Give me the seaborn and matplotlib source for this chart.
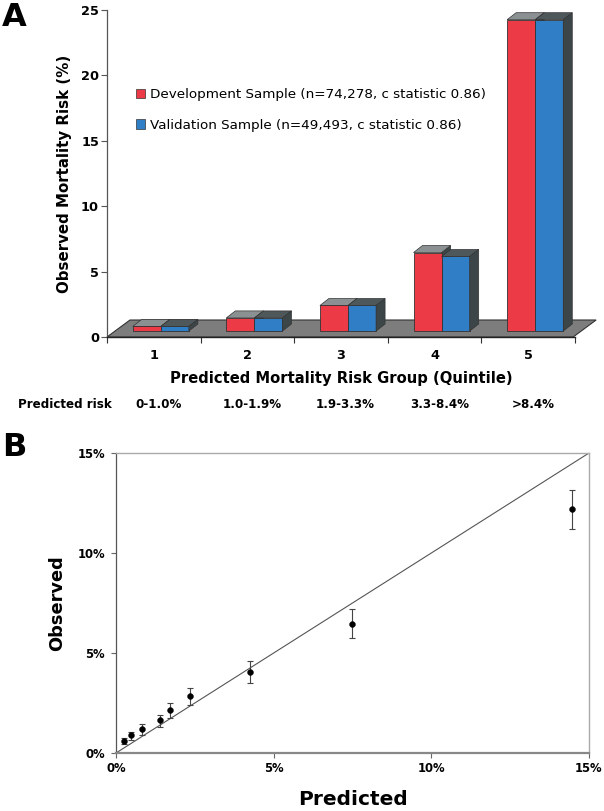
import numpy as np
import pandas as pd
import matplotlib
matplotlib.use("Agg")
import matplotlib.pyplot as plt
import seaborn as sns
from matplotlib.patches import Polygon, Patch
from matplotlib.ticker import FuncFormatter
import matplotlib.transforms as mtransforms

# ---------------- data ----------------
groups = ["1", "2", "3", "4", "5"]
risk_ranges = ["0-1.0%", "1.0-1.9%", "1.9-3.3%", "3.3-8.4%", ">8.4%"]
samples = ["Development Sample (n=74,278, c statistic 0.86)",
           "Validation Sample (n=49,493, c statistic 0.86)"]
development = [0.35, 1.0, 1.95, 6.0, 23.8]
validation = [0.35, 1.0, 1.95, 5.7, 23.8]

predicted = [0.26, 0.46, 0.81, 1.38, 1.70, 2.34, 4.24, 7.48, 14.45]
observed = [0.60, 0.88, 1.20, 1.63, 2.13, 2.85, 4.05, 6.47, 12.18]
ci_low = [0.47, 0.67, 0.92, 1.28, 1.75, 2.38, 3.48, 5.73, 11.22]
ci_high = [0.75, 1.07, 1.45, 1.92, 2.50, 3.27, 4.62, 7.18, 13.17]
diag = [0, 15]

RED = "#EC3A47"
BLUE = "#2F7EC6"
TOP_RED = "#8B9092"
TOP_BLUE = "#4E585B"
SIDE = "#3C4649"
FLOOR = "#7d7d7d"

sns.set_theme(style="white")
plt.rcParams["font.family"] = ["DejaVu Sans"]
plt.rcParams["text.color"] = "black"
plt.rcParams["axes.labelcolor"] = "black"
plt.rcParams["xtick.color"] = "black"
plt.rcParams["ytick.color"] = "black"

W, H = 604, 811
fig = plt.figure(figsize=(W / 100, H / 100), dpi=100)
axA = fig.add_axes([107 / W, 1 - 337 / H, 468 / W, 327 / H])
axB = fig.add_axes([116 / W, 1 - 753 / H, 473 / W, 300 / H])

# ---------------- panel A ----------------
df = pd.DataFrame({
    "group": groups * 2,
    "sample": [samples[0]] * len(groups) + [samples[1]] * len(groups),
    "risk": development + validation,
})
sns.barplot(data=df, x="group", y="risk", hue="sample", order=groups,
            hue_order=samples, palette=[RED, BLUE], width=0.6, saturation=1,
            edgecolor="#333333", linewidth=0.6, legend=False, ax=axA, zorder=2)
axA.set_xlim(-0.5, 4.5)
axA.set_ylim(0, 25)

bb = axA.get_window_extent()
ux = 5 / bb.width     # data units per pixel (x)
uy = 25 / bb.height   # data units per pixel (y)
fx, fy = 7, 6         # front-face offset in pixels
dx, dy = 9, 7         # bar depth in pixels

# floor
fdx, fdy = 23, 17
floor = Polygon([(-0.5, 0), (4.48, 0), (4.48 + fdx * ux, fdy * uy),
                 (-0.5 + fdx * ux, fdy * uy)], closed=True,
                facecolor=FLOOR, edgecolor="#333333", lw=0.8,
                zorder=0.8, clip_on=False)
axA.add_patch(floor)

bars = sorted([p for p in axA.patches if p is not floor and p.get_height() > 0],
              key=lambda p: p.get_x())
for i, p in enumerate(bars):
    is_red = (i % 2 == 0)
    x0 = p.get_x() + fx * ux
    x1 = x0 + p.get_width()
    y0 = fy * uy
    top = p.get_height() + y0
    p.set_x(x0)
    p.set_y(y0)
    p.set_clip_on(False)
    ztop = 1.2 if is_red else 2.2
    zside = 1.1 if is_red else 2.2
    axA.add_patch(Polygon([(x0, top), (x1, top), (x1 + dx * ux, top + dy * uy),
                           (x0 + dx * ux, top + dy * uy)], closed=True,
                          facecolor=TOP_RED if is_red else TOP_BLUE,
                          edgecolor="#333333", lw=0.5, zorder=ztop, clip_on=False))
    axA.add_patch(Polygon([(x1, y0), (x1, top), (x1 + dx * ux, top + dy * uy),
                           (x1 + dx * ux, y0 + dy * uy)], closed=True,
                          facecolor=SIDE, edgecolor="#333333", lw=0.5,
                          zorder=zside, clip_on=False))

for s in ["top", "right"]:
    axA.spines[s].set_visible(False)
axA.spines["left"].set_color("#555555")
axA.spines["left"].set_linewidth(0.9)
axA.spines["bottom"].set_color("#222222")
axA.spines["bottom"].set_linewidth(1.0)
axA.spines["bottom"].set_zorder(3)

axA.set_yticks([0, 5, 10, 15, 20, 25])
axA.set_yticklabels(["0", "5", "10", "15", "20", "25"])
axA.set_xticks(range(len(groups)))
axA.set_xticklabels(groups)
axA.set_xticks(np.arange(-0.5, 5.0, 1.0), minor=True)
axA.tick_params(axis="y", which="major", left=True, length=4.3, width=0.8,
                color="#555555", pad=1.5, labelsize=9.3)
axA.tick_params(axis="x", which="major", bottom=True, length=0, pad=8.5, labelsize=9.3)
axA.tick_params(axis="x", which="minor", bottom=True, length=4, width=0.8,
                color="#333333")
for t in axA.get_xticklabels() + axA.get_yticklabels():
    t.set_fontweight("bold")

axA.set_ylabel("Observed Mortality Risk (%)", fontsize=10.8, fontweight="bold")
axA.yaxis.set_label_coords(-0.075, 0.5)
axA.set_xlabel("Predicted Mortality Risk Group (Quintile)", fontsize=10.6,
               fontweight="bold")
axA.xaxis.set_label_coords(0.5, -0.105)

blend = mtransforms.blended_transform_factory(axA.transData, fig.transFigure)
for i, r in enumerate(risk_ranges):
    axA.text(i + 0.05, 1 - 404 / H, r, transform=blend, ha="center", va="center",
             fontsize=8.6, fontweight="bold")
fig.text(18 / W, 1 - 404 / H, "Predicted risk", ha="left", va="center",
         fontsize=8.6, fontweight="bold")

handles = [Patch(facecolor=RED, edgecolor="#333333", lw=0.5),
           Patch(facecolor=BLUE, edgecolor="#333333", lw=0.5)]
axA.legend(handles, samples, loc="upper left",
           bbox_to_anchor=(136 / W, 1 - 88 / H), bbox_transform=fig.transFigure,
           frameon=False, fontsize=9.7, handlelength=0.7, handleheight=0.7,
           handletextpad=0.35, labelspacing=1.3, borderpad=0, borderaxespad=0)

fig.text(2 / W, 1 - 2 / H, "A", fontsize=23, fontweight="bold", ha="left", va="top")

# ---------------- panel B ----------------
obs = np.array(observed)
yerr = np.vstack([obs - np.array(ci_low), np.array(ci_high) - obs])
sns.lineplot(x=diag, y=diag, color="#555555", lw=0.8, ax=axB, zorder=1)
axB.errorbar(predicted, observed, yerr=yerr, fmt="none", ecolor="#444444",
             elinewidth=0.8, capsize=2.2, capthick=0.8, zorder=2)
sns.scatterplot(x=predicted, y=observed, color="black", s=18, edgecolor="black",
                linewidth=0.3, ax=axB, zorder=3)
axB.set_xlim(0, 15)
axB.set_ylim(0, 15)
ticksB = [0, 5, 10, 15]
axB.set_xticks(ticksB)
axB.set_yticks(ticksB)
pct = FuncFormatter(lambda v, p: f"{v:.0f}%")
axB.xaxis.set_major_formatter(pct)
axB.yaxis.set_major_formatter(pct)
axB.tick_params(axis="both", which="major", length=3.6, width=0.8,
                color="#666666", labelsize=8.4)
axB.tick_params(axis="x", bottom=True, pad=3)
axB.tick_params(axis="y", left=True, pad=4.2)
for t in axB.get_xticklabels() + axB.get_yticklabels():
    t.set_fontweight("bold")

axB.spines["left"].set_color("#555555")
axB.spines["left"].set_linewidth(0.9)
axB.spines["bottom"].set_color("#888888")
axB.spines["bottom"].set_linewidth(1.6)
for s in ["top", "right"]:
    axB.spines[s].set_color("#aaaaaa")
    axB.spines[s].set_linewidth(1.0)

axB.set_xlabel("Predicted", fontsize=14.5, fontweight="bold")
axB.xaxis.set_label_coords(0.5, -0.123)
axB.set_ylabel("Observed", fontsize=12.8, fontweight="bold")
axB.yaxis.set_label_coords(-0.106, 0.5)

fig.text(2 / W, 1 - 432 / H, "B", fontsize=23, fontweight="bold", ha="left", va="top")

fig.savefig("out.png", dpi=100)
